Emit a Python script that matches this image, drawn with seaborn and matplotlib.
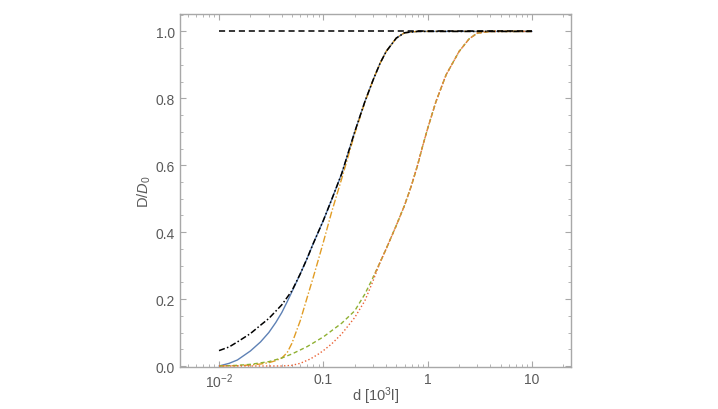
import numpy as np
import pandas as pd
import matplotlib
matplotlib.use("Agg")
import matplotlib.pyplot as plt
import seaborn as sns
from matplotlib.ticker import FixedLocator, MultipleLocator, NullFormatter

# values (d in units of 10^3 l, y = D/D0)
d_black = [0.01, 0.0125, 0.015, 0.02, 0.025, 0.03, 0.04, 0.05, 0.06, 0.07, 0.08, 0.1,
           0.12, 0.15, 0.2, 0.25, 0.3, 0.35, 0.4, 0.5, 0.6, 0.8, 1.0, 10.0]
y_black = [0.046, 0.057, 0.072, 0.097, 0.122, 0.142, 0.183, 0.225, 0.275, 0.322, 0.366, 0.435,
           0.497, 0.575, 0.700, 0.790, 0.855, 0.905, 0.940, 0.980, 0.996, 1.0, 1.0, 1.0]

d_blue = [0.01, 0.0125, 0.015, 0.02, 0.025, 0.03, 0.035, 0.04, 0.045, 0.05, 0.06, 0.07,
          0.08, 0.1, 0.12, 0.15, 0.2, 0.25, 0.3, 0.35, 0.4, 0.5, 0.6, 0.8, 1.0, 10.0]
y_blue = [0.0, 0.008, 0.018, 0.045, 0.072, 0.100, 0.130, 0.160, 0.192, 0.222, 0.275, 0.322,
          0.366, 0.435, 0.497, 0.575, 0.700, 0.790, 0.855, 0.905, 0.940, 0.980, 0.996, 1.0, 1.0, 1.0]

d_yellow = [0.01, 0.015, 0.02, 0.025, 0.03, 0.035, 0.04, 0.045, 0.05, 0.06, 0.07, 0.08, 0.09,
            0.1, 0.12, 0.15, 0.2, 0.25, 0.3, 0.35, 0.4, 0.5, 0.6, 0.8, 1.0, 10.0]
y_yellow = [0.0, 0.001, 0.003, 0.006, 0.010, 0.016, 0.024, 0.040, 0.068, 0.135, 0.205, 0.265, 0.32,
            0.37, 0.46, 0.56, 0.695, 0.788, 0.855, 0.905, 0.940, 0.980, 0.996, 1.0, 1.0, 1.0]

d_green = [0.01, 0.015, 0.02, 0.03, 0.04, 0.05, 0.07, 0.1, 0.15, 0.2, 0.25, 0.3, 0.35, 0.4,
           0.5, 0.6, 0.7, 0.8, 0.9, 1.0, 1.2, 1.5, 2.0, 2.5, 3.0, 4.0, 10.0]
y_green = [0.0, 0.002, 0.005, 0.013, 0.024, 0.036, 0.058, 0.087, 0.128, 0.165, 0.215, 0.265, 0.31, 0.35,
           0.42, 0.48, 0.54, 0.60, 0.66, 0.71, 0.79, 0.87, 0.94, 0.978, 0.995, 1.0, 1.0]

d_red = [0.01, 0.04, 0.05, 0.06, 0.075, 0.09, 0.1, 0.12, 0.15, 0.2, 0.25, 0.3, 0.35, 0.4,
         0.5, 0.6, 0.7, 0.8, 0.9, 1.0, 1.2, 1.5, 2.0, 2.5, 3.0, 4.0, 10.0]
y_red = [0.0, 0.0, 0.002, 0.008, 0.021, 0.036, 0.046, 0.066, 0.096, 0.145, 0.195, 0.255, 0.31, 0.35,
         0.42, 0.48, 0.54, 0.60, 0.66, 0.71, 0.79, 0.87, 0.94, 0.978, 0.995, 1.0, 1.0]

d_orange = [0.3, 0.35, 0.4, 0.5, 0.6, 0.7, 0.8, 0.9, 1.0, 1.2, 1.5, 2.0, 2.5, 3.0, 4.0, 10.0]
y_orange = [0.265, 0.31, 0.35, 0.42, 0.48, 0.54, 0.60, 0.66, 0.71, 0.79, 0.87, 0.94, 0.978, 0.995, 1.0, 1.0]

d_flat = [0.01, 10.0]
y_flat = [1.0, 1.0]

sns.set_style("ticks")
plt.rcParams['font.family'] = ['Liberation Sans', 'DejaVu Sans']
plt.rcParams['mathtext.fontset'] = 'custom'
plt.rcParams['mathtext.rm'] = 'Liberation Sans'
plt.rcParams['mathtext.it'] = 'Liberation Sans:italic'

fig = plt.figure(figsize=(7.18, 4.10), dpi=100)
ax = fig.add_axes([0.2507, 0.1024, 0.5446, 0.8610])

lw = 1.0
sns.lineplot(x=d_blue, y=y_blue, ax=ax, color='#5E81B5', lw=lw, sort=False)
sns.lineplot(x=d_yellow, y=y_yellow, ax=ax, color='#E19C24', lw=lw, sort=False,
             linestyle=(0, (5, 1.5, 1, 1.5)))
sns.lineplot(x=d_green, y=y_green, ax=ax, color='#8FB032', lw=lw, sort=False,
             linestyle=(0, (3, 2)))
sns.lineplot(x=d_red, y=y_red, ax=ax, color='#EB6235', lw=lw, sort=False,
             linestyle=(0, (1, 1.6)))
sns.lineplot(x=d_orange, y=y_orange, ax=ax, color='#D8923A', lw=lw, sort=False,
             linestyle=(2, (3, 2)))
sns.lineplot(x=d_black, y=y_black, ax=ax, color='black', lw=1.1, sort=False,
             linestyle=(0, (4, 1.5, 1, 1.5)))
sns.lineplot(x=d_flat, y=y_flat, ax=ax, color='black', lw=1.1, sort=False,
             linestyle=(0, (4, 2.5)))

ax.set_xscale('log')
ax.set_xlim(10 ** -2.374, 10 ** 1.374)
ax.set_ylim(-0.003, 1.052)

ax.xaxis.set_major_locator(FixedLocator([0.01, 0.1, 1, 10]))
ax.set_xticklabels(['$10^{-2}$', '0.1', '1', '10'])
minors = [m * 10.0 ** e for e in range(-3, 2) for m in range(2, 10)]
ax.xaxis.set_minor_locator(FixedLocator(minors))
ax.xaxis.set_minor_formatter(NullFormatter())
ax.yaxis.set_major_locator(MultipleLocator(0.2))
ax.yaxis.set_minor_locator(MultipleLocator(0.05))
ax.set_yticklabels(['%.1f' % v for v in ax.get_yticks()])

frame = '#A8A8A8'
for s in ax.spines.values():
    s.set_color(frame)
    s.set_linewidth(1.0)
ax.tick_params(which='both', direction='in', top=True, right=True, colors=frame,
               labelcolor='#5a5a5a', labelsize=10)
ax.tick_params(which='major', length=4, width=0.8)
ax.tick_params(which='minor', length=2, width=0.6)

ax.set_xlabel('d [10$^3$l]', fontsize=10.5, color='#5a5a5a')
ax.set_ylabel('D/$\\mathit{D}_0$', fontsize=10.5, color='#5a5a5a')
ax.xaxis.set_label_coords(0.5, -0.05)
ax.yaxis.set_label_coords(-0.068, 0.5)

plt.savefig('out.png', dpi=100)
